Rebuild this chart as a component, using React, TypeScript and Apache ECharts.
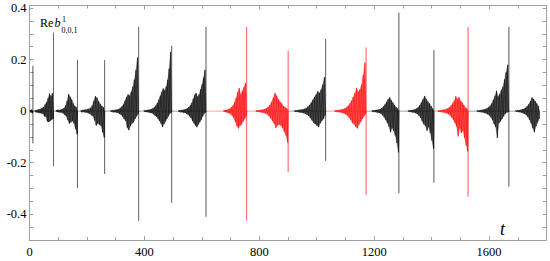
import React, { useEffect, useRef } from "react";
import * as echarts from "echarts";

// Axis ticks / labels
const xTickLabels = [0, 400, 800, 1200, 1600];
const yTickLabels = [-0.4, -0.2, 0, 0.2, 0.4];
const yTickMarks = [-0.45, -0.4, -0.35, -0.3, -0.25, -0.2, -0.15, -0.1, -0.05, 0, 0.05, 0.1, 0.15, 0.2, 0.25, 0.3, 0.35, 0.4];

// Big spikes that end each burst (t, top, bottom)
const spikeT = [11.8, 83.5, 167, 261.6, 380, 495, 614.6, 756, 900.5, 1031, 1172, 1286, 1408, 1527, 1669];
const spikeUp = [0.176, 0.305, 0.198, 0.198, 0.327, 0.254, 0.327, 0.327, 0.234, 0.28, 0.247, 0.382, 0.237, 0.327, 0.327];
const spikeDown = [-0.125, -0.213, -0.298, -0.244, -0.425, -0.356, -0.41, -0.425, -0.236, -0.193, -0.325, -0.318, -0.278, -0.332, -0.293];

// Start of the oscillating part of each burst
const burstStart = [2, 18, 92, 178, 282, 398, 518, 675, 788, 922, 1062, 1192, 1318, 1422, 1558, 1692];
const lastBurstEnd = 1776;
const burstColor = ["#000", "#000", "#000", "#000", "#000", "#000", "#000", "#ff0000", "#ff0000", "#000", "#ff0000", "#000", "#000", "#ff0000", "#000", "#000"];

// Oscillation extremes (alternating up / down)
const osc1 = [0.004, -0.006, 0.006, -0.008];
const osc2 = [0.003, -0.004, 0.004, -0.005, 0.006, -0.006, 0.007, -0.008, 0.009, -0.008, 0.012, -0.011, 0.016, -0.02, 0.026, -0.022, 0.035, -0.04, 0.05, -0.042, 0.068, -0.038, 0.058, -0.033, 0.07, -0.03];
const osc3 = [0.004, -0.003, 0.005, -0.004, 0.004, -0.005, 0.006, -0.005, 0.008, -0.009, 0.012, -0.015, 0.022, -0.02, 0.04, -0.035, 0.066, -0.048, 0.056, -0.043, 0.045, -0.038, 0.03, -0.048, 0.02, -0.068, 0.015, -0.09];
const osc4 = [0.003, -0.004, 0.004, -0.003, 0.005, -0.005, 0.006, -0.005, 0.007, -0.008, 0.009, -0.01, 0.013, -0.016, 0.022, -0.02, 0.04, -0.036, 0.058, -0.056, 0.052, -0.048, 0.038, -0.052, 0.028, -0.058, 0.02, -0.082, 0.015, -0.102];
const osc5 = [0.003, -0.003, 0.003, -0.004, 0.004, -0.004, 0.005, -0.005, 0.006, -0.007, 0.008, -0.01, 0.012, -0.014, 0.018, -0.022, 0.026, -0.03, 0.04, -0.038, 0.055, -0.064, 0.065, -0.074, 0.06, -0.058, 0.075, -0.048, 0.095, -0.043, 0.122, -0.03, 0.16, -0.02, 0.208, -0.01];
const osc6 = [0.003, -0.003, 0.003, -0.003, 0.004, -0.004, 0.005, -0.005, 0.006, -0.007, 0.008, -0.008, 0.011, -0.012, 0.015, -0.018, 0.022, -0.022, 0.032, -0.03, 0.045, -0.038, 0.06, -0.048, 0.075, -0.062, 0.088, -0.05, 0.08, -0.04, 0.095, -0.03, 0.122, -0.02, 0.165, -0.01, 0.23, -0.005];
const osc7 = [0.003, -0.003, 0.003, -0.004, 0.004, -0.004, 0.005, -0.006, 0.006, -0.007, 0.008, -0.01, 0.011, -0.014, 0.016, -0.02, 0.022, -0.027, 0.032, -0.038, 0.048, -0.047, 0.064, -0.056, 0.07, -0.062, 0.056, -0.052, 0.065, -0.043, 0.084, -0.033, 0.103, -0.02, 0.13, -0.01, 0.16, -0.005];
const osc8 = [0.003, -0.003, 0.004, -0.004, 0.005, -0.006, 0.007, -0.008, 0.01, -0.012, 0.015, -0.018, 0.022, -0.027, 0.035, -0.042, 0.052, -0.058, 0.074, -0.067, 0.09, -0.056, 0.065, -0.052, 0.079, -0.04, 0.093, -0.03, 0.11, -0.02];
const osc9 = [0.003, -0.003, 0.003, -0.003, 0.004, -0.004, 0.005, -0.005, 0.006, -0.007, 0.008, -0.009, 0.011, -0.013, 0.016, -0.019, 0.024, -0.028, 0.036, -0.038, 0.052, -0.048, 0.07, -0.065, 0.06, -0.056, 0.046, -0.052, 0.037, -0.056, 0.03, -0.066, 0.02, -0.08, 0.015, -0.095, 0.01, -0.122];
const osc10 = [0.003, -0.003, 0.003, -0.003, 0.004, -0.004, 0.005, -0.005, 0.006, -0.006, 0.007, -0.008, 0.009, -0.01, 0.012, -0.014, 0.017, -0.019, 0.024, -0.027, 0.033, -0.036, 0.044, -0.045, 0.055, -0.05, 0.065, -0.056, 0.077, -0.062, 0.07, -0.047, 0.084, -0.037, 0.103, -0.03, 0.132, -0.015];
const osc11 = [0.003, -0.003, 0.003, -0.003, 0.004, -0.004, 0.005, -0.005, 0.006, -0.007, 0.008, -0.009, 0.011, -0.012, 0.015, -0.017, 0.021, -0.025, 0.03, -0.034, 0.041, -0.046, 0.055, -0.051, 0.07, -0.061, 0.09, -0.067, 0.075, -0.052, 0.084, -0.042, 0.103, -0.03, 0.14, -0.02, 0.188, -0.01];
const osc12 = [0.003, -0.003, 0.003, -0.003, 0.004, -0.004, 0.005, -0.006, 0.006, -0.007, 0.008, -0.01, 0.012, -0.016, 0.018, -0.024, 0.026, -0.034, 0.036, -0.046, 0.046, -0.06, 0.053, -0.082, 0.042, -0.066, 0.033, -0.076, 0.024, -0.095, 0.015, -0.124, 0.01, -0.16];
const osc13 = [0.003, -0.003, 0.003, -0.003, 0.004, -0.005, 0.005, -0.005, 0.007, -0.008, 0.01, -0.011, 0.015, -0.017, 0.023, -0.026, 0.034, -0.039, 0.046, -0.051, 0.059, -0.057, 0.047, -0.076, 0.037, -0.061, 0.03, -0.085, 0.02, -0.114, 0.01, -0.146];
const osc14 = [0.003, -0.003, 0.003, -0.003, 0.004, -0.004, 0.005, -0.005, 0.006, -0.007, 0.008, -0.009, 0.011, -0.012, 0.015, -0.017, 0.022, -0.025, 0.03, -0.034, 0.04, -0.046, 0.058, -0.06, 0.047, -0.098, 0.055, -0.066, 0.04, -0.085, 0.034, -0.076, 0.024, -0.104, 0.015, -0.132, 0.01, -0.156];
const osc15 = [0.003, -0.003, 0.003, -0.003, 0.004, -0.004, 0.005, -0.005, 0.006, -0.007, 0.008, -0.009, 0.011, -0.012, 0.015, -0.017, 0.021, -0.024, 0.03, -0.035, 0.044, -0.05, 0.06, -0.062, 0.079, -0.104, 0.057, -0.047, 0.066, -0.04, 0.081, -0.03, 0.095, -0.02, 0.123, -0.01, 0.151, -0.005, 0.18, -0.003];
const osc16 = [0.003, -0.003, 0.003, -0.003, 0.004, -0.004, 0.005, -0.005, 0.007, -0.008, 0.009, -0.011, 0.013, -0.015, 0.019, -0.023, 0.027, -0.034, 0.038, -0.048, 0.053, -0.066, 0.047, -0.082, 0.039, -0.059, 0.03, -0.044, 0.02, -0.03];
const oscValues = [osc1, osc2, osc3, osc4, osc5, osc6, osc7, osc8, osc9, osc10, osc11, osc12, osc13, osc14, osc15, osc16];

const FRAME = "#a0a0a0";
const SERIF = "Liberation Serif, Times New Roman, serif";

function buildSeries() {
  const out: any[] = [];
  let prev = 0;
  burstStart.forEach((s, k) => {
    const hasSpike = k < spikeT.length;
    const end = hasSpike ? spikeT[k] : lastBurstEnd;
    const vals = oscValues[k];
    const color = burstColor[k];
    const z = color === "#000" ? 2 : 3;
    const step = (end - s) / vals.length;
    const pts = vals.map((v, i) => [s + (i + 0.5) * step, v]);
    // thin trace: zero line and spike
    const trace: number[][] = [[prev, 0], [end, 0]];
    if (hasSpike) trace.push([end, spikeUp[k]], [end, spikeDown[k]], [end, 0]);
    out.push({
      type: "line",
      data: trace,
      symbol: "none",
      silent: true,
      z,
      lineStyle: { width: 0.6, color, opacity: 0.62 },
    });
    // filled envelopes (upper and lower)
    const upper = [[s, 0], ...pts.filter((p) => p[1] > 0), [end, 0]];
    const lower = [[s, 0], ...pts.filter((p) => p[1] < 0), [end, 0]];
    [upper, lower].forEach((env) => {
      out.push({
        type: "line",
        data: env,
        symbol: "none",
        silent: true,
        z,
        lineStyle: { width: 0.4, color, opacity: 0.4 },
        areaStyle: { color, opacity: 0.55, origin: 0 },
      });
    });
    // the oscillation itself
    out.push({
      type: "line",
      data: [[s, 0], ...pts, [end, 0]],
      symbol: "none",
      silent: true,
      z,
      lineStyle: { width: 0.6, color, opacity: 0.85 },
    });
    prev = end;
  });
  return out;
}

export default function App() {
  const ref = useRef<HTMLDivElement>(null);
  useEffect(() => {
    if (!ref.current) return;
    const chart = echarts.init(ref.current, undefined, { renderer: "svg" });
    const xBase = {
      type: "value",
      min: 0,
      max: 1800,
      interval: 400,
      splitLine: { show: false },
      axisLine: { show: true, onZero: false, lineStyle: { color: FRAME, width: 1 } },
      axisTick: { show: true, inside: true, length: 4, lineStyle: { color: FRAME } },
      minorTick: { show: true, splitNumber: 4, length: 3, lineStyle: { color: FRAME } },
    };
    const yBase = {
      type: "value",
      min: -0.5,
      max: 0.41,
      splitLine: { show: false },
      axisLine: { show: true, onZero: false, lineStyle: { color: FRAME, width: 1 } },
      axisTick: { show: true, inside: true, length: 4, customValues: yTickMarks, lineStyle: { color: FRAME } },
    };
    chart.setOption({
      animation: false,
      grid: { left: 29.5, right: 3.5, top: 5.5, bottom: 21, containLabel: false },
      xAxis: [
        {
          ...xBase,
          position: "bottom",
          axisLabel: {
            show: true,
            customValues: xTickLabels,
            fontFamily: SERIF,
            fontSize: 12.5,
            color: "#000",
            margin: 5,
            formatter: (v: number) => String(Math.round(v)),
          },
        },
        { ...xBase, position: "top", axisLabel: { show: false } },
      ],
      yAxis: [
        {
          ...yBase,
          position: "left",
          axisLabel: {
            show: true,
            customValues: yTickLabels,
            fontFamily: SERIF,
            fontSize: 12.5,
            color: "#000",
            margin: 3,
            formatter: (v: number) => String(Math.round(v * 10) / 10),
          },
        },
        { ...yBase, position: "right", axisLabel: { show: false } },
      ],
      series: buildSeries(),
      graphic: [
        { type: "text", x: 40, y: 23, style: { text: "Re", fontFamily: SERIF, fontSize: 12, fill: "#000", verticalAlign: "middle" } },
        { type: "text", x: 54.5, y: 23, style: { text: "b", fontFamily: SERIF, fontStyle: "italic", fontSize: 12, fill: "#000", verticalAlign: "middle" } },
        { type: "text", x: 62, y: 19, style: { text: "1", fontFamily: SERIF, fontSize: 8, fill: "#000", verticalAlign: "middle" } },
        { type: "text", x: 61.5, y: 30, style: { text: "0,0,1", fontFamily: SERIF, fontSize: 8, fill: "#000", verticalAlign: "middle" } },
        { type: "text", x: 500, y: 229, style: { text: "t", fontFamily: SERIF, fontStyle: "italic", fontSize: 18, fill: "#000", verticalAlign: "middle" } },
      ],
    });
    return () => chart.dispose();
  }, []);
  return <div ref={ref} style={{ width: 550, height: 261, position: "absolute", left: 0, top: 0 }} />;
}
